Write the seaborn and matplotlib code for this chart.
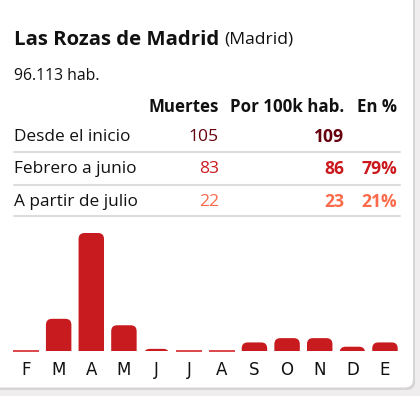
import matplotlib
matplotlib.use("Agg")
import matplotlib.pyplot as plt
import seaborn as sns
import pandas as pd
from matplotlib.patches import FancyBboxPatch

# datos
municipio = "Las Rozas de Madrid"
provincia = "(Madrid)"
habitantes = "96.113 hab."
columnas = ["Muertes", "Por 100k hab.", "En %"]
filas = ["Desde el inicio", "Febrero a junio", "A partir de julio"]
muertes = ["105", "83", "22"]
por_100k = ["109", "86", "23"]
porcentaje = ["", "79%", "21%"]
meses = ["F", "M", "A", "M", "J", "J", "A", "S", "O", "N", "D", "E"]
fallecidos_mes = [0, 15, 55, 12, 1, 0, 0, 4, 6, 6, 2, 4]

colores_fila = ["#67000d", "#cb181d", "#fb6a4a"]
rojo_barra = "#c81b1f"

sns.set_theme(style="white")
plt.rcParams['font.family'] = ['Open Sans', 'DejaVu Sans']

W, H = 420, 396
fig = plt.figure(figsize=(W / 100, H / 100), dpi=100)
fig.patch.set_facecolor("#efeded")


def fx(px):
    return px / W


def fy(py):
    return 1 - py / H


# tarjeta blanca con sombra
sombra = FancyBboxPatch((fx(-20), fy(390)), fx(435), 410 / H,
                        boxstyle="round,pad=0,rounding_size=0.02",
                        transform=fig.transFigure, facecolor="#d6d4d4",
                        edgecolor="none", zorder=0)
tarjeta = FancyBboxPatch((fx(-20), fy(387.5)), fx(433), 410 / H,
                         boxstyle="round,pad=0,rounding_size=0.02",
                         transform=fig.transFigure, facecolor="white",
                         edgecolor="none", zorder=1)
fig.patches.extend([sombra, tarjeta])

# cabecera
t = fig.text(fx(14), fy(40), municipio, fontsize=14.7, fontweight="bold",
             va="center", ha="left", color="#111111")
fig.canvas.draw()
bb = t.get_window_extent()
fig.text(bb.x1 / W + fx(5), fy(40), provincia, fontsize=12.6,
         va="center", ha="left", color="#111111")
fig.text(fx(14), fy(76), habitantes, fontsize=11.3, va="center", ha="left",
         color="#111111")

# tabla
col_x = [219, 344, 397]
for cx, nombre in zip(col_x, columnas):
    fig.text(fx(cx), fy(107), nombre, fontsize=12.2, fontweight="bold",
             ha="right", va="center", color="#111111")

fila_y = [137, 169, 202]
linea_y = [152, 185, 216]
for i, (nombre, y) in enumerate(zip(filas, fila_y)):
    fig.text(fx(14), fy(y), nombre, fontsize=12.4, ha="left", va="center",
             color="#111111")
    fig.text(fx(col_x[0]), fy(y), muertes[i], fontsize=12.6, ha="right",
             va="center", color=colores_fila[i])
    fig.text(fx(col_x[1]), fy(y), por_100k[i], fontsize=12.6, ha="right",
             va="center", color=colores_fila[i], fontweight="bold")
    fig.text(fx(col_x[2]), fy(y), porcentaje[i], fontsize=12.6, ha="right",
             va="center", color=colores_fila[i], fontweight="bold")
    fig.add_artist(plt.Line2D([fx(14), fx(400)], [fy(linea_y[i])] * 2,
                              color="#dddddd", linewidth=1.5))

# barras mensuales
ax = fig.add_axes([fx(9.7), fy(351), fx(391.6), 118 / H])
ax.set_zorder(3)
ax.set_facecolor("none")
df = pd.DataFrame({"pos": range(len(meses)), "valor": fallecidos_mes})
sns.barplot(data=df, x="pos", y="valor", color=rojo_barra, width=0.78,
            saturation=1, ax=ax)
ax.set_ylim(0, max(fallecidos_mes))
ax.set_xlim(-0.5, len(meses) - 0.5)

px_x = 391.6 / len(meses)
px_y = 118 / max(fallecidos_mes)
radio = 6 / px_x
for p in list(ax.patches):
    x0, w, h = p.get_x(), p.get_width(), p.get_height()
    p.remove()
    if h <= 0.3:
        ax.plot([x0, x0 + w], [h, h], color="#d9383c", linewidth=1.3,
                solid_capstyle="butt", clip_on=False)
        continue
    r = min(radio, w / 2)
    barra = FancyBboxPatch((x0, -3), w, h + 3,
                           boxstyle=f"round,pad=0,rounding_size={r}",
                           mutation_aspect=px_x / px_y,
                           facecolor=rojo_barra, edgecolor="none")
    ax.add_patch(barra)

ax.set_xticks(range(len(meses)))
ax.set_xticklabels(meses, fontsize=12, color="#111111",
                   fontfamily="DejaVu Sans")
ax.tick_params(axis="x", length=0, pad=7)
ax.set_yticks([])
ax.set_xlabel("")
ax.set_ylabel("")
sns.despine(ax=ax, left=True, bottom=True)

fig.savefig("out.png", dpi=100, facecolor=fig.get_facecolor())
